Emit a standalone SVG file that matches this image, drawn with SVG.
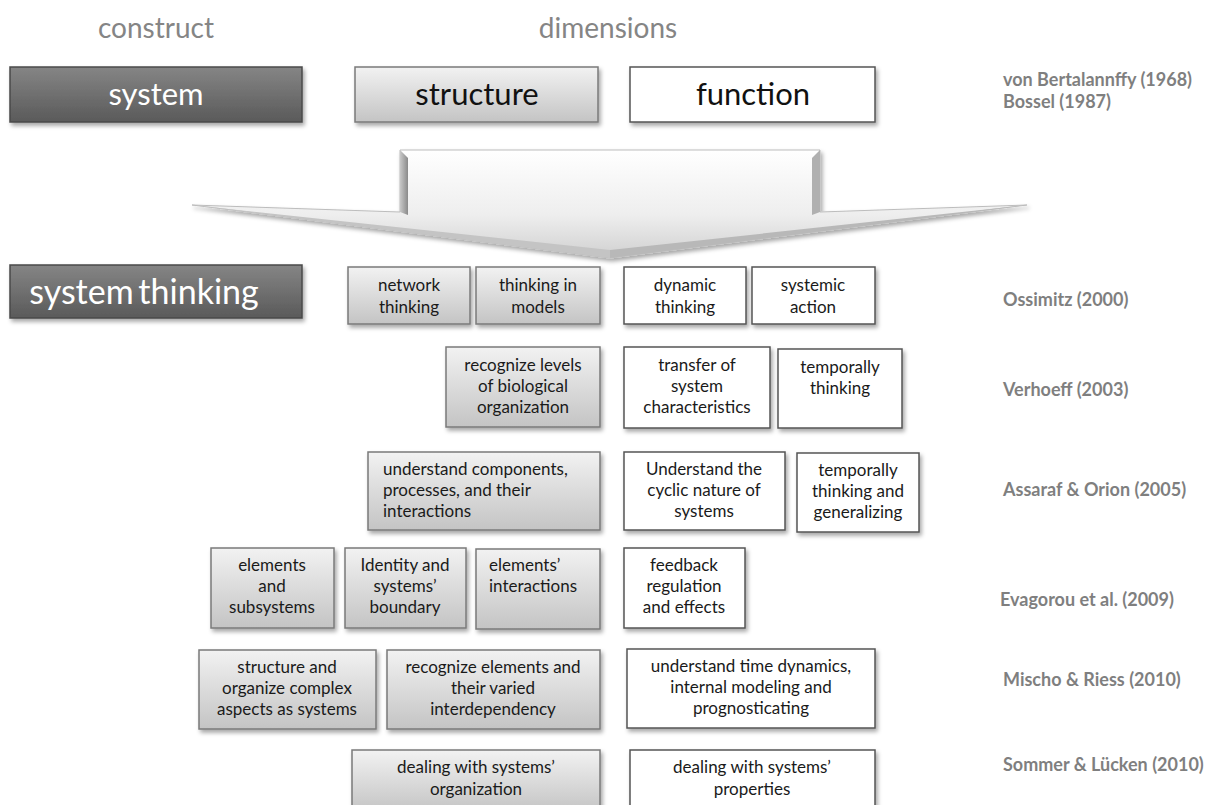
<svg xmlns="http://www.w3.org/2000/svg" width="1226" height="805" viewBox="0 0 1226 805">
<defs>
<linearGradient id="gGray" x1="0" y1="0" x2="0" y2="1"><stop offset="0" stop-color="#f2f2f2"/><stop offset="1" stop-color="#c4c4c4"/></linearGradient>
<linearGradient id="gDark" x1="0" y1="0" x2="0" y2="1"><stop offset="0" stop-color="#858585"/><stop offset="1" stop-color="#5a5a5a"/></linearGradient>
<linearGradient id="gArrow" x1="0" y1="0" x2="0" y2="1"><stop offset="0" stop-color="#ffffff"/><stop offset="0.6" stop-color="#eeeeee"/><stop offset="1" stop-color="#d0d0d0"/></linearGradient>
<linearGradient id="gSide" x1="0" y1="0" x2="1" y2="0"><stop offset="0" stop-color="#c8c8c8"/><stop offset="1" stop-color="#8a8a8a"/></linearGradient>
<filter id="sh" x="-10%" y="-10%" width="125%" height="135%"><feDropShadow dx="2" dy="3" stdDeviation="2" flood-color="#000" flood-opacity="0.35"/></filter>
</defs>
<style>
.gray{fill:url(#gGray);stroke:#7a7a7a;stroke-width:1.5;filter:url(#sh)}
.white{fill:#ffffff;stroke:#555555;stroke-width:1.5;filter:url(#sh)}
.dark{fill:url(#gDark);stroke:#4a4a4a;stroke-width:1.5;filter:url(#sh)}
.t{font-family:Lato,"Liberation Sans",sans-serif;font-size:17px;fill:#1a1a1a;text-anchor:middle}
.tl{font-family:Lato,"Liberation Sans",sans-serif;font-size:17px;fill:#1a1a1a;text-anchor:start}
.big{font-family:Lato,"Liberation Sans",sans-serif;font-size:31px;fill:#111;text-anchor:middle}
.bigw{font-family:Lato,"Liberation Sans",sans-serif;font-size:31px;fill:#ffffff;text-anchor:middle}
.head{font-family:Lato,"Liberation Sans",sans-serif;font-size:28px;fill:#858585;text-anchor:middle}
.ref{font-family:Lato,"Liberation Sans",sans-serif;font-size:18px;font-weight:bold;fill:#7f7f7f}
</style>
<rect width="1226" height="805" fill="#ffffff"/>

<g id="headers">
<text class="head" x="156" y="38">construct</text>
<text class="head" x="608" y="38">dimensions</text>
</g>

<g id="connectors">
<polygon points="192,205 400,212 400,150 820,150 820,212 1027,205 610,258" fill="url(#gArrow)" stroke="#bdbdbd" stroke-width="1" filter="url(#sh)"/>
<polygon points="400,150 408,158 408,215 400,212" fill="url(#gSide)"/>
<polygon points="820,150 812,158 812,215 820,212" fill="#b0b0b0"/>
<polygon points="192,205 610,250 610,258" fill="#c4c4c4"/>
<polygon points="1027,205 610,250 610,258" fill="#b8b8b8"/>
</g>

<g id="n-system"><rect class="dark" x="10" y="67" width="292" height="55"/><text class="bigw" x="156" y="105">system</text></g>
<g id="n-structure"><rect class="gray" x="355" y="67" width="243" height="55"/><text class="big" x="477" y="105">structure</text></g>
<g id="n-function"><rect class="white" x="630" y="67" width="245" height="55"/><text class="big" x="753" y="105">function</text></g>
<g id="r-bertalanffy"><text class="ref" x="1003" y="86">von Bertalannffy (1968)</text><text class="ref" x="1003" y="108">Bossel (1987)</text></g>

<g id="n-systemthinking"><rect class="dark" x="10" y="265" width="292" height="53"/><text class="bigw" x="144" y="304" style="font-size:34px;word-spacing:-4px">system thinking</text></g>
<g id="n-network"><rect class="gray" x="348" y="267" width="122" height="57"/><text class="t" x="409" y="291">network</text><text class="t" x="409" y="313">thinking</text></g>
<g id="n-models"><rect class="gray" x="476" y="267" width="124" height="57"/><text class="t" x="538" y="291">thinking in</text><text class="t" x="538" y="313">models</text></g>
<g id="n-dynamic"><rect class="white" x="624" y="267" width="122" height="57"/><text class="t" x="685" y="291">dynamic</text><text class="t" x="685" y="313">thinking</text></g>
<g id="n-systemic"><rect class="white" x="752" y="267" width="123" height="57"/><text class="t" x="813" y="291">systemic</text><text class="t" x="813" y="313">action</text></g>
<g id="r-ossimitz"><text class="ref" x="1003" y="306">Ossimitz (2000)</text></g>

<g id="n-levels"><rect class="gray" x="446" y="347" width="154" height="80"/><text class="t" x="523" y="371">recognize levels</text><text class="t" x="523" y="392">of biological</text><text class="t" x="523" y="413">organization</text></g>
<g id="n-transfer"><rect class="white" x="624" y="347" width="146" height="81"/><text class="t" x="697" y="371">transfer of</text><text class="t" x="697" y="392">system</text><text class="t" x="697" y="413">characteristics</text></g>
<g id="n-temporally"><rect class="white" x="778" y="349" width="124" height="79"/><text class="t" x="840" y="373">temporally</text><text class="t" x="840" y="394">thinking</text></g>
<g id="r-verhoeff"><text class="ref" x="1003" y="396">Verhoeff (2003)</text></g>

<g id="n-components"><rect class="gray" x="368" y="452" width="232" height="78"/><text class="tl" x="383" y="475">understand components,</text><text class="tl" x="383" y="496">processes, and their</text><text class="tl" x="383" y="517">interactions</text></g>
<g id="n-cyclic"><rect class="white" x="624" y="452" width="161" height="78"/><text class="t" x="704" y="475">Understand the</text><text class="t" x="704" y="496">cyclic nature of</text><text class="t" x="704" y="517">systems</text></g>
<g id="n-generalizing"><rect class="white" x="797" y="453" width="122" height="79"/><text class="t" x="858" y="476">temporally</text><text class="t" x="858" y="497">thinking and</text><text class="t" x="858" y="518">generalizing</text></g>
<g id="r-assaraf"><text class="ref" x="1003" y="496">Assaraf &amp; Orion (2005)</text></g>

<g id="n-elements"><rect class="gray" x="211" y="548" width="123" height="80"/><text class="t" x="272" y="571">elements</text><text class="t" x="272" y="592">and</text><text class="t" x="272" y="613">subsystems</text></g>
<g id="n-identity"><rect class="gray" x="345" y="548" width="121" height="80"/><text class="t" x="405" y="571">Identity and</text><text class="t" x="405" y="592">systems’</text><text class="t" x="405" y="613">boundary</text></g>
<g id="n-interactions"><rect class="gray" x="476" y="549" width="124" height="80"/><text class="tl" x="489" y="571">elements’</text><text class="tl" x="489" y="592">interactions</text></g>
<g id="n-feedback"><rect class="white" x="624" y="548" width="121" height="80"/><text class="t" x="684" y="571">feedback</text><text class="t" x="684" y="592">regulation</text><text class="t" x="684" y="613">and effects</text></g>
<g id="r-evagorou"><text class="ref" x="1000" y="606">Evagorou et al. (2009)</text></g>

<g id="n-organize"><rect class="gray" x="199" y="650" width="177" height="79"/><text class="t" x="287" y="673">structure and</text><text class="t" x="287" y="694">organize complex</text><text class="t" x="287" y="715">aspects as systems</text></g>
<g id="n-interdependency"><rect class="gray" x="387" y="650" width="213" height="79"/><text class="t" x="493" y="673">recognize elements and</text><text class="t" x="493" y="694">their varied</text><text class="t" x="493" y="715">interdependency</text></g>
<g id="n-timedynamics"><rect class="white" x="627" y="649" width="248" height="79"/><text class="t" x="751" y="672">understand time dynamics,</text><text class="t" x="751" y="693">internal modeling and</text><text class="t" x="751" y="714">prognosticating</text></g>
<g id="r-mischo"><text class="ref" x="1003" y="686">Mischo &amp; Riess (2010)</text></g>

<g id="n-organization"><rect class="gray" x="352" y="750" width="248" height="62"/><text class="t" x="476" y="773">dealing with systems’</text><text class="t" x="476" y="795">organization</text></g>
<g id="n-properties"><rect class="white" x="630" y="750" width="245" height="62"/><text class="t" x="752" y="773">dealing with systems’</text><text class="t" x="752" y="795">properties</text></g>
<g id="r-sommer"><text class="ref" x="1003" y="771">Sommer &amp; Lücken (2010)</text></g>
</svg>
